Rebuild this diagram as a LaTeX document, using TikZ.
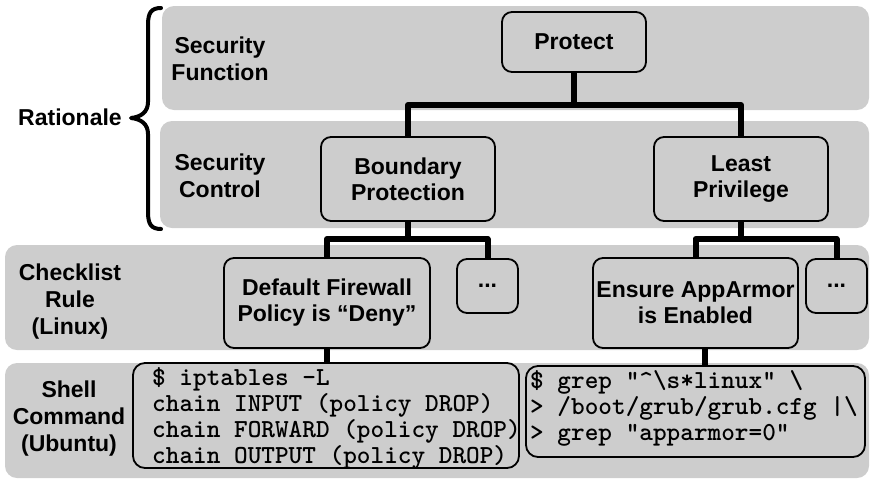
\documentclass[tikz,border=0pt]{standalone}
\usepackage{fontspec}
\setmainfont{Liberation Sans}
\definecolor{bandgray}{RGB}{205,205,205}
\begin{document}
\begin{tikzpicture}[x=1pt,y=-1pt,
  band/.style={fill=bandgray, draw=none, rounded corners=12pt},
  rbox/.style={draw, line width=1.8pt, rounded corners=10pt, align=center, inner sep=0pt,
    font=\bfseries\fontsize{23}{26}\selectfont},
  cbox/.style={draw, line width=1.8pt, rounded corners=12pt, inner sep=0pt},
  lab/.style={anchor=base, inner sep=0pt, font=\bfseries\fontsize{23}{27}\selectfont},
  code/.style={anchor=base west, inner sep=0pt, font=\ttfamily\bfseries\fontsize{26}{26}\selectfont},
  conn/.style={line width=6pt, line join=round, line cap=butt},
  bracestyle/.style={line width=4pt, line cap=round, line join=round}]
\useasboundingbox (0,0) rectangle (870,480);
% bands
\fill[band] (162,6) rectangle (869,110);
\fill[band] (160,121) rectangle (869,228);
\fill[band] (5,245) rectangle (869,350);
\fill[band] (5,363) rectangle (869,478);
% brace
\draw[bracestyle] (161,8) .. controls (151,8) and (148,13) .. (148,25) -- (148,102)
  .. controls (148,112) and (141,117) .. (131,118)
  .. controls (141,119) and (148,124) .. (148,134) -- (148,212)
  .. controls (148,224) and (151,229) .. (161,229);
\node[lab] (rat) at (70,125) {Rationale};
% left labels
\node[lab] (sf1) at (220,53) {Security};
\node[lab] (sf2) at (220,80) {Function};
\node[lab] (sc1) at (220,170) {Security};
\node[lab] (sc2) at (220,197) {Control};
\node[lab] (cr1) at (70,280) {Checklist};
\node[lab] (cr2) at (70,307) {Rule};
\node[lab] (cr3) at (70,334) {(Linux)};
\node[lab] (sh1) at (69,397) {Shell};
\node[lab] (sh2) at (69,424) {Command};
\node[lab] (sh3) at (69,451) {(Ubuntu)};
% boxes
\node[rbox, minimum width=144pt, minimum height=60pt] (protect) at (574,42) {Protect};
\node[rbox, minimum width=174pt, minimum height=84pt] (bp) at (408,179) {Boundary\\Protection};
\node[rbox, minimum width=174pt, minimum height=84pt] (lp) at (741,179) {Least\\Privilege};
\node[rbox, minimum width=206pt, minimum height=90pt] (dfp) at (327,303) {Default Firewall\\Policy is “Deny”};
\node[rbox, minimum width=61pt, minimum height=54pt] (d1) at (487.5,286) {...};
\node[rbox, minimum width=205pt, minimum height=90pt] (aa) at (695.5,303) {Ensure AppArmor\\is Enabled};
\node[rbox, minimum width=61pt, minimum height=54pt] (d2) at (836.5,286) {...};
\node[cbox, minimum width=386pt, minimum height=105pt] (ipt) at (326,415.5) {};
\node[cbox, minimum width=339pt, minimum height=91pt] (grep) at (695.5,411.5) {};
% code text
\node[code] (i1) at (152,385) {\$ iptables -L};
\node[code] (i2) at (152,411) {chain INPUT (policy DROP)};
\node[code] (i3) at (152,437) {chain FORWARD (policy DROP)};
\node[code] (i4) at (152,463) {chain OUTPUT (policy DROP)};
\node[code] (g1) at (530,388) {\$ grep "\textasciicircum\textbackslash s*linux" \textbackslash};
\node[code] (g2) at (530,414) {> /boot/grub/grub.cfg |\textbackslash};
\node[code] (g3) at (530,440) {> grep "apparmor=0"};
% connectors
\coordinate (h1) at (574,105);
\coordinate (h2) at (408,239);
\coordinate (h3) at (741,239);
\draw[conn] (protect.south) -- (h1);
\draw[conn] (bp.north) |- (h1) -| (lp.north);
\draw[conn] (bp.south) -- (h2);
\draw[conn] (dfp.north) |- (h2) -| (d1.north);
\draw[conn] (lp.south) -- (h3);
\draw[conn] (aa.north) |- (h3) -| (d2.north);
\draw[conn] (dfp.south) -- (dfp.south |- ipt.north);
\draw[conn] ([xshift=9.5pt]aa.south) -- ([xshift=9.5pt]aa.south |- grep.north);
\end{tikzpicture}
\end{document}
